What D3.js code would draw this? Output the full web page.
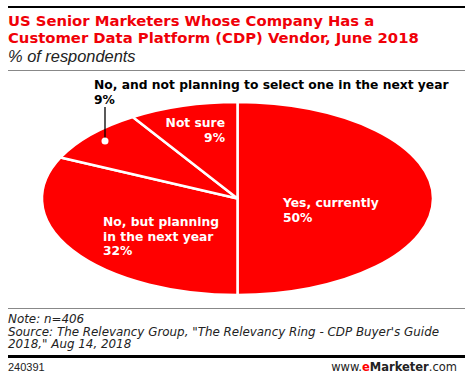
<!DOCTYPE html>
<html>
<head>
<meta charset="utf-8">
<script src="https://cdn.jsdelivr.net/npm/d3@7"></script>
<style>
  body { margin: 0; background: #fff; }
  svg { display: block; }
</style>
</head>
<body>
<div id="chart"></div>
<script>
const categories = ['Yes, currently', 'No, but planning in the next year', 'No, and not planning to select one in the next year', 'Not sure'];
const values = [50, 32, 9, 9];

const width = 473;
const height = 378;
const red = '#ff0000';

const svg = d3.select('#chart')
  .append('svg')
  .attr('width', width)
  .attr('height', height)
  .attr('viewBox', [0, 0, width, height]);

// header
svg.append('rect').attr('x', 8).attr('y', 6).attr('width', 457).attr('height', 2).attr('fill', '#000');
const title = svg.append('text')
  .attr('font-family', 'DejaVu Sans, sans-serif')
  .attr('font-weight', 'bold')
  .attr('font-size', 14.8)
  .attr('fill', '#f00008');
title.append('tspan').attr('x', 8).attr('y', 26).text('US Senior Marketers Whose Company Has a');
title.append('tspan').attr('x', 8).attr('y', 43).text('Customer Data Platform (CDP) Vendor, June 2018');
svg.append('text')
  .attr('x', 8).attr('y', 62)
  .attr('font-family', 'Liberation Sans, sans-serif')
  .attr('font-style', 'italic')
  .attr('font-size', 16.4)
  .attr('fill', '#222')
  .text('% of respondents');
svg.append('rect').attr('x', 8).attr('y', 70).attr('width', 457).attr('height', 1).attr('fill', '#888');

// pie, squashed into an ellipse
const cx = 237.5, cy = 198.5, rx = 195.5, ry = 96.5;
const pie = d3.pie().sort(null).value(d => d)(values);
const arc = d3.arc().innerRadius(0).outerRadius(rx);

const g = svg.append('g')
  .attr('transform', `translate(${cx},${cy}) scale(1,${ry / rx})`);
g.selectAll('path')
  .data(pie)
  .enter()
  .append('path')
  .attr('d', arc)
  .attr('fill', red)
  .attr('stroke', '#fff')
  .attr('stroke-width', 2.5)
  .attr('stroke-linejoin', 'round')
  .attr('vector-effect', 'non-scaling-stroke');

// labels
const lab = svg.append('g')
  .attr('font-family', 'DejaVu Sans, sans-serif')
  .attr('font-weight', 'bold')
  .attr('font-size', 12.3);

function label(lines, x, y, color, anchor) {
  const t = lab.append('text').attr('fill', color).attr('text-anchor', anchor || 'start');
  lines.forEach((s, i) => t.append('tspan').attr('x', x).attr('y', y + i * 14.5).text(s));
}
label(['Yes, currently', values[0] + '%'], 283, 207, '#fff');
label(['No, but planning', 'in the next year', values[1] + '%'], 103, 226, '#fff');
label([categories[2], values[2] + '%'], 94, 89, '#000');
label(['Not sure', values[3] + '%'], 225, 127, '#fff', 'end');

// leader for the small slice
svg.append('line')
  .attr('x1', 105).attr('x2', 105).attr('y1', 107).attr('y2', 139)
  .attr('stroke', '#000').attr('stroke-width', 1.3);
svg.append('circle')
  .attr('cx', 105).attr('cy', 141).attr('r', 3.5)
  .attr('fill', '#fff');

// footer
svg.append('rect').attr('x', 8).attr('y', 308).attr('width', 457).attr('height', 1).attr('fill', '#888');
const foot = svg.append('text')
  .attr('font-family', 'DejaVu Sans, sans-serif')
  .attr('font-style', 'italic')
  .attr('font-size', 11.9)
  .attr('fill', '#222');
foot.append('tspan').attr('x', 8).attr('y', 323).text('Note: n=406');
foot.append('tspan').attr('x', 8).attr('y', 335.5).text('Source: The Relevancy Group, "The Relevancy Ring - CDP Buyer\'s Guide');
foot.append('tspan').attr('x', 8).attr('y', 348).text('2018," Aug 14, 2018');
svg.append('rect').attr('x', 8).attr('y', 355).attr('width', 457).attr('height', 3).attr('fill', '#000');
svg.append('text')
  .attr('x', 8).attr('y', 371)
  .attr('font-family', 'Liberation Sans, sans-serif')
  .attr('font-size', 11)
  .attr('fill', '#222')
  .text('240391');
const brand = svg.append('text')
  .attr('x', 457).attr('y', 371)
  .attr('text-anchor', 'end')
  .attr('font-family', 'DejaVu Sans, sans-serif')
  .attr('font-size', 11.5)
  .attr('fill', '#222');
brand.append('tspan').text('www.');
brand.append('tspan').attr('fill', red).attr('font-weight', 'bold').text('e');
brand.append('tspan').attr('font-weight', 'bold').text('Marketer');
brand.append('tspan').text('.com');
</script>
</body>
</html>
